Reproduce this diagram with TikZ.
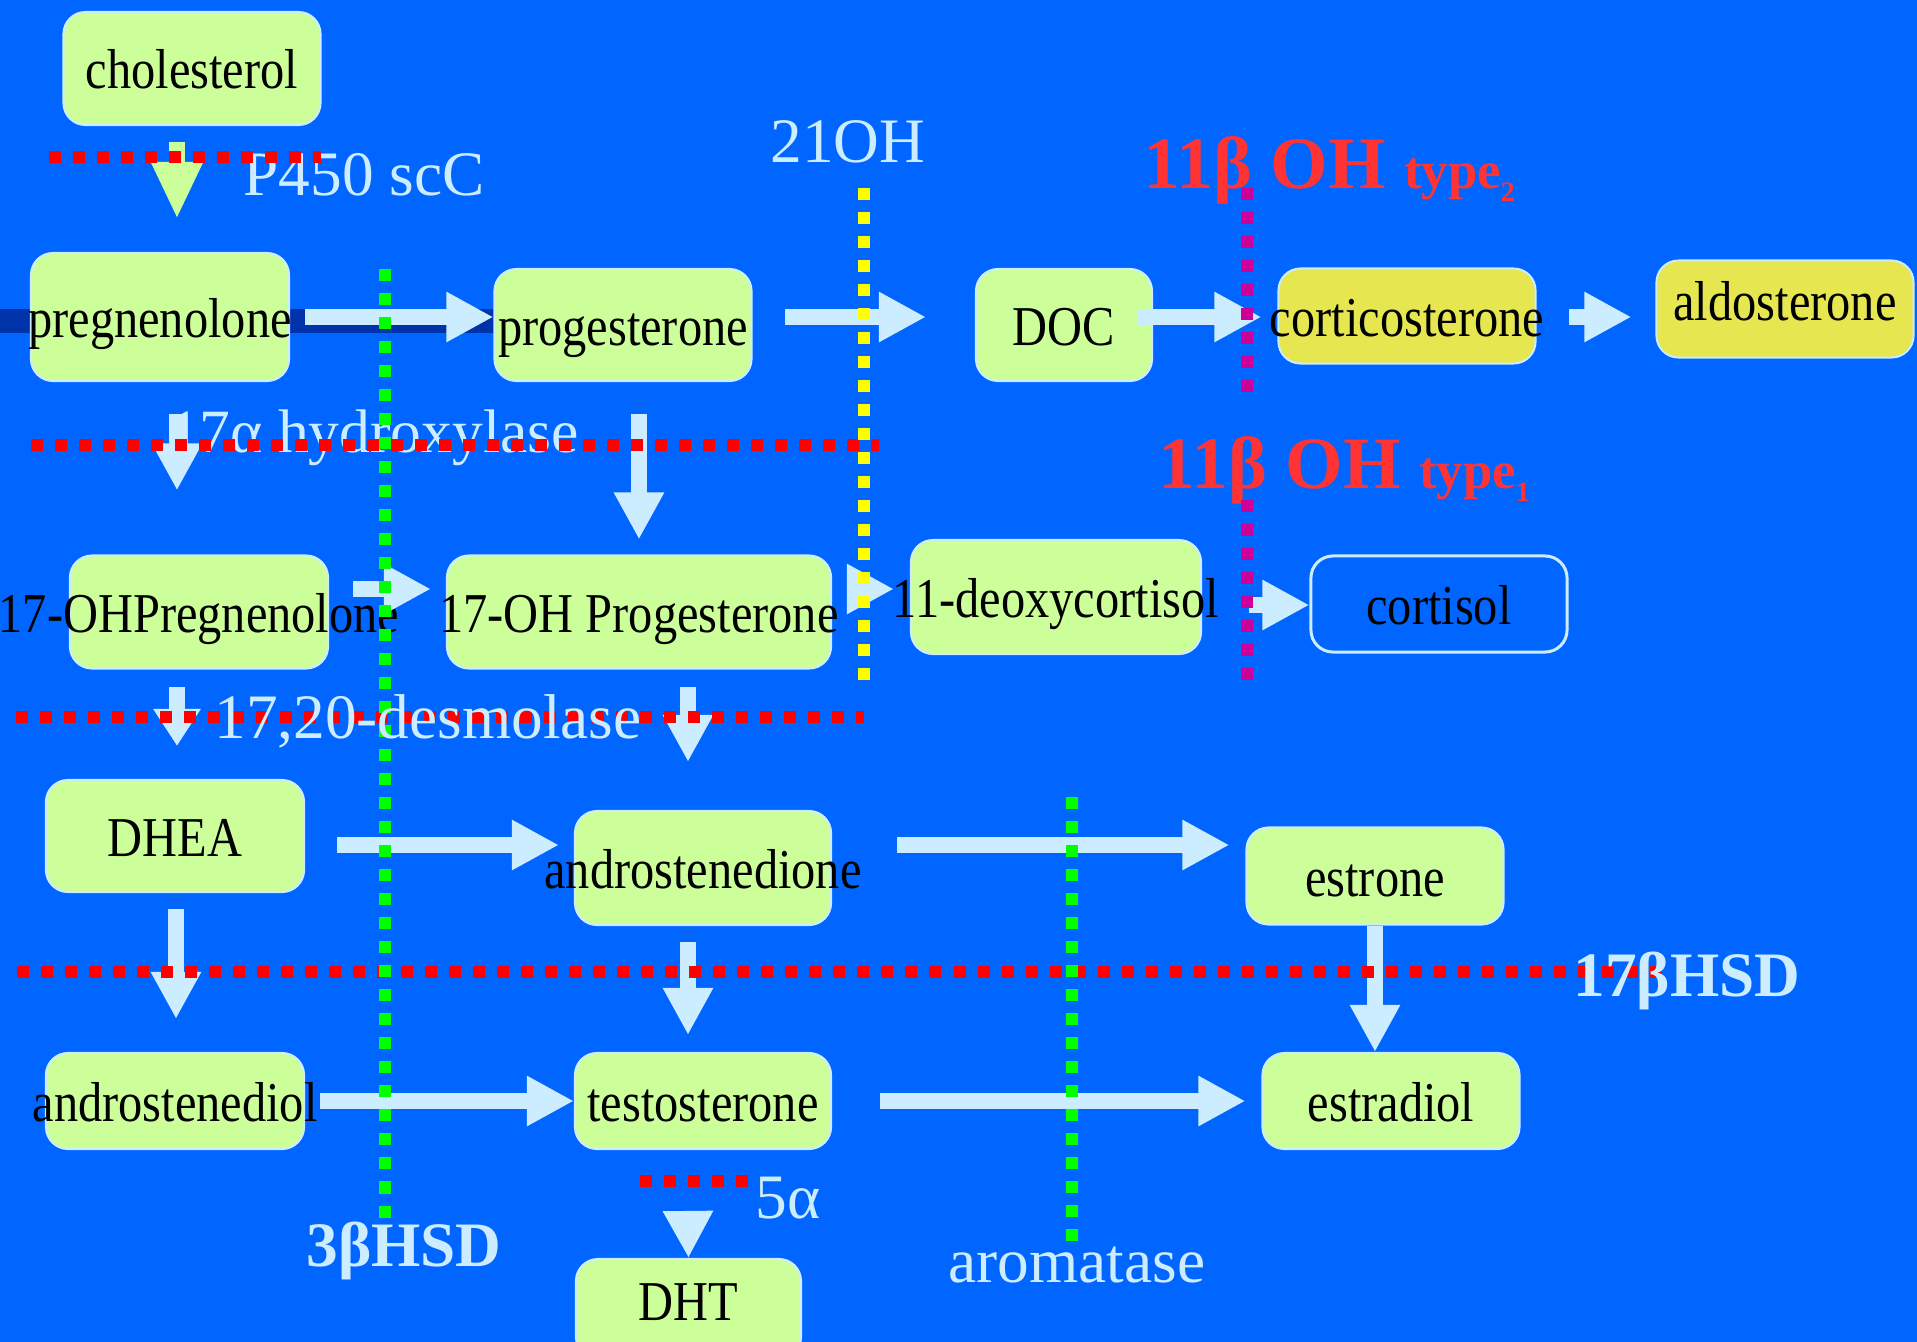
\documentclass[tikz,border=0pt]{standalone}
\usepackage{fontspec}
\setmainfont{Liberation Serif}
\newfontfamily\narrowserif{Liberation Serif}[FakeStretch=0.86]
\usetikzlibrary{arrows.meta,calc}
\definecolor{slideblue}{RGB}{0,102,255}
\definecolor{bandblue}{RGB}{0,51,170}
\definecolor{boxgreen}{RGB}{204,255,153}
\definecolor{boxyellow}{RGB}{230,230,80}
\definecolor{paleblue}{RGB}{204,236,255}
\definecolor{enzred}{RGB}{255,51,51}
\definecolor{dotred}{RGB}{255,0,0}
\definecolor{dotgreen}{RGB}{0,255,0}
\definecolor{dotyellow}{RGB}{255,255,0}
\definecolor{dotmagenta}{RGB}{204,0,153}
\newcommand{\spill}[1]{\makebox[0pt]{#1}}

\begin{document}
\begin{tikzpicture}[x=0.01cm, y=-0.01cm,
    steroid/.style={draw=paleblue, line width=0.02cm, fill=boxgreen,
        rounded corners=0.22cm, inner sep=0pt,
        minimum width=2.57cm, minimum height=1.12cm,
        text height=0.42cm, text depth=0.02cm,
        font=\narrowserif\fontsize{16}{18}\selectfont},
    enzyme/.style={paleblue, inner sep=0pt, anchor=base, font=\fontsize{18}{20}\selectfont},
    redenz/.style={enzred, inner sep=0pt, anchor=base west, font=\bfseries},
    conv/.style={paleblue, line width=0.16cm, -{Triangle[length=0.47cm, width=0.47cm]}},
    cutline/.style={line width=0.115cm, dash pattern=on 0.12cm off 0.12cm}
]
\useasboundingbox (0,0) rectangle (1917,1342);
\fill[slideblue] (0,0) rectangle (1917,1342);
\clip (0,0) rectangle (1917,1342);
\fill[bandblue] (0,309) rectangle (495,333);

% steroids
\node[steroid, minimum height=1.13cm] (chol) at (192,68.5) {\spill{cholesterol}};
\node[steroid, minimum width=2.58cm, minimum height=1.28cm] (preg) at (160,317) {\spill{pregnenolone}};
\node[steroid] (prog) at (623,325) {\spill{progesterone}};
\node[steroid, minimum width=1.76cm] (DOC) at (1064,325) {\spill{DOC}};
\node[steroid, fill=boxyellow, minimum height=0.95cm] (cortico) at (1407,316) {\spill{corticosterone}};
\node[steroid, fill=boxyellow, minimum height=0.97cm, text depth=0.2cm] (aldo) at (1785,309) {\spill{aldosterone}};
\node[steroid, minimum width=2.58cm, minimum height=1.13cm] (ohpreg) at (199,612) {\spill{17-OHPregnenolone}};
\node[steroid, minimum width=3.84cm, minimum height=1.13cm] (ohprog) at (639,612) {\spill{17-OH Progesterone}};
\node[steroid, minimum width=2.9cm, minimum height=1.14cm] (deoxy) at (1056,597) {\spill{11-deoxycortisol}};
\node[steroid, fill=none, line width=0.03cm, minimum width=2.56cm, minimum height=0.96cm] (cortisol) at (1439,604) {\spill{cortisol}};
\node[steroid, minimum width=2.58cm] (dhea) at (175,836) {\spill{DHEA}};
\node[steroid, minimum width=2.56cm, minimum height=1.14cm] (andro) at (703,868) {\spill{androstenedione}};
\node[steroid, minimum height=0.97cm] (estrone) at (1375,876) {\spill{estrone}};
\node[steroid, minimum width=2.58cm, minimum height=0.96cm] (adiol) at (175,1101) {\spill{androstenediol}};
\node[steroid, minimum width=2.56cm, minimum height=0.96cm] (testo) at (703,1101) {\spill{testosterone}};
\node[steroid, minimum height=0.96cm] (estradiol) at (1391,1101) {\spill{estradiol}};
\node[steroid, minimum width=2.25cm, minimum height=1cm, text depth=0.2cm] (DHT) at (688.5,1309) {\spill{DHT}};

% conversions
\draw[conv, boxgreen, -{Triangle[length=0.57cm, width=0.48cm]}] ($(chol.south)+(-15,16)$) -- ($(preg.north)+(17,-33)$);
\draw[conv] ($(preg.east)+(15,0)$) -- (prog.west |- preg.east);
\draw[conv] ($(prog.east)+(32,-8)$) -- ($(DOC.west)+(-49,-8)$);
\draw[conv] ($(DOC.east)+(-16,-8)$) -- ($(cortico.west)+(-16,1)$);
\draw[conv] ($(cortico.east)+(32,1)$) -- ($(aldo.west)+(-24,8)$);
\draw[conv] ($(preg.south)+(17,32)$) -- ($(ohpreg.north)+(-22,-64)$);
\draw[conv] ($(prog.south)+(16,32)$) -- ($(ohprog.north)+(0,-15)$);
\draw[conv] ($(ohpreg.east)+(24,-23)$) -- ($(ohprog.west)+(-15,-23)$);
\draw[conv] ($(ohprog.east)+(17,-23)$) -- ($(deoxy.west)+(-16,-8)$);
\draw[conv] ($(deoxy.east)+(47,8)$) -- ($(cortisol.west)+(0,1)$);
\draw[conv, -{Triangle[length=0.37cm, width=0.45cm]}] ($(ohpreg.south)+(-22,17)$) -- ($(dhea.north)+(2,-33)$);
\draw[conv] ($(ohprog.south)+(49,17)$) -- ($(andro.north)+(-15,-48)$);
\draw[conv] ($(dhea.east)+(32,9)$) -- ($(andro.west)+(-15,-23)$);
\draw[conv] ($(andro.east)+(65,-23)$) -- ($(estrone.west)+(-16,-31)$);
\draw[conv] ($(dhea.south)+(1,16)$) -- ($(adiol.north)+(1,-33)$);
\draw[conv] ($(andro.south)+(-15,16)$) -- ($(testo.north)+(-15,-17)$);
\draw[conv] (estrone.south) -- ($(estradiol.north)+(-16,0)$);
\draw[conv] ($(adiol.east)+(15,0)$) -- (testo.west);
\draw[conv] ($(testo.east)+(48,0)$) -- ($(estradiol.west)+(-16,0)$);
\draw[conv] ($(testo.south)+(-15,63)$) -- (DHT.north);

% enzymes
\node[enzyme] (scc) at (364,195) {P450 scC};
\node[enzyme] (cyp21) at (848,162) {21OH};
\node[enzyme, font=\fontsize{17.5}{20}\selectfont] (hydrox) at (374,452) {17α hydroxylase};
\node[enzyme] (arom) at (1077,1282) {aromatase};
\node[enzyme] (red5) at (788,1218) {5α};
\node[enzyme, font=\fontsize{18}{20}\selectfont\bfseries] (hsd3) at (404,1266) {3βHSD};
\node[redenz] (cyp11b2) at (1143,188) {\fontsize{21}{24}\selectfont 11β OH {\fontsize{15}{18}\selectfont type\raisebox{-0.13cm}{\fontsize{8}{9}\selectfont 2}}};
\node[redenz] (cyp11b1) at (1158,488) {\fontsize{21}{24}\selectfont 11β OH {\fontsize{15}{18}\selectfont type\raisebox{-0.13cm}{\fontsize{8}{9}\selectfont 1}}};

% blocks
\draw[cutline, dotred] (49,157) -- (321,157);
\draw[cutline, dotred] (31,445) -- (879,445);
\draw[cutline, dotred] (16,717) -- (864,717);
\draw[cutline, dotred] (17,972) -- (1672,972);
\draw[cutline, dotred] (640,1181) -- (748,1181);
\draw[cutline, dotgreen] (385,269) -- (385,1222);
\draw[cutline, dotgreen] (1072,797) -- (1072,1242);
\draw[cutline, dotyellow] (864,188) -- (864,682);
\draw[cutline, dotmagenta] (1247,188) -- (1247,393);
\draw[cutline, dotmagenta] (1247,500) -- (1247,682);

\node[enzyme] (lyase) at (428,738) {17,20-desmolase};
\node[enzyme, font=\fontsize{18}{20}\selectfont\bfseries] (hsd17) at (1687,996) {17βHSD};
\end{tikzpicture}
\end{document}
